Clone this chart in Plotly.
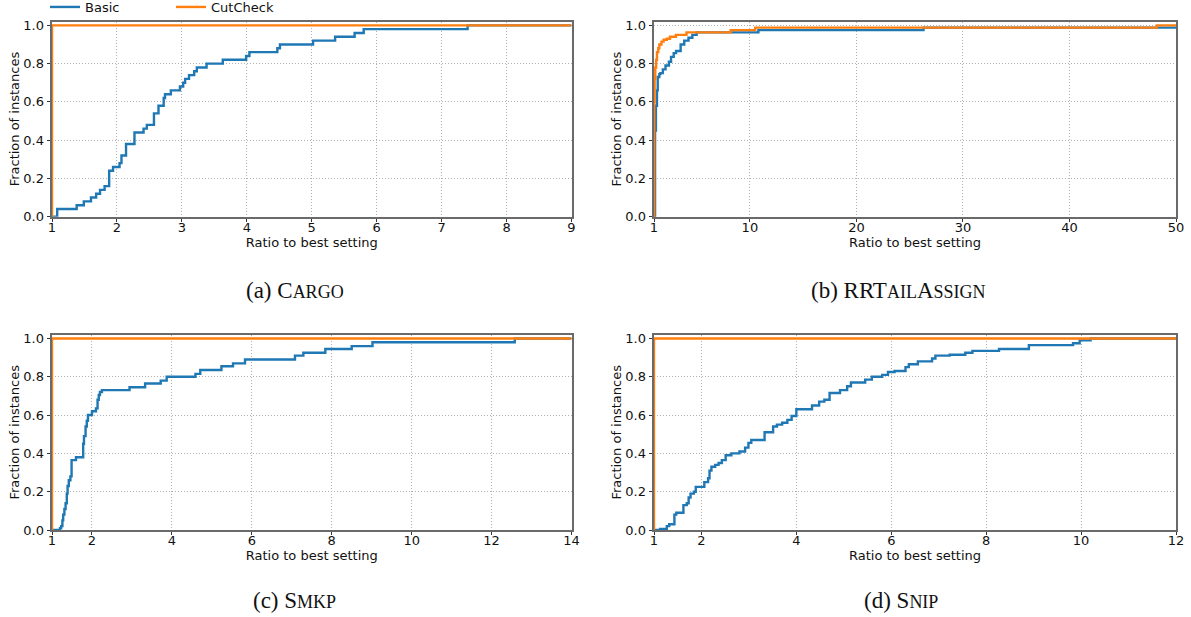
import plotly.graph_objects as go

# ---------------- data ----------------
series_names = ["Basic", "CutCheck"]
series_colors = ["#1f77b4", "#ff7f0e"]

SC = "<span style='font-size:18px'>"
panel_captions = [
    "(a) C" + SC + "ARGO</span>",
    "(b) RRT" + SC + "AIL</span>A" + SC + "SSIGN</span>",
    "(c) S" + SC + "MKP</span>",
    "(d) S" + SC + "NIP</span>",
]

x_max = [9, 50, 14, 12]
x_ticks = [
    [1, 2, 3, 4, 5, 6, 7, 8, 9],
    [1, 10, 20, 30, 40, 50],
    [1, 2, 4, 6, 8, 10, 12, 14],
    [1, 2, 4, 6, 8, 10, 12],
]
y_ticks = [0.0, 0.2, 0.4, 0.6, 0.8, 1.0]
y_tick_labels = ["0.0", "0.2", "0.4", "0.6", "0.8", "1.0"]

# Cargo
cargo_basic_x = [1.0, 1.08, 1.38, 1.49, 1.60, 1.68, 1.74, 1.81, 1.88, 1.94, 2.04, 2.07,
                 2.14, 2.27, 2.41, 2.46, 2.57, 2.64, 2.72, 2.74, 2.83, 2.97, 3.02, 3.05,
                 3.11, 3.19, 3.23, 3.38, 3.63, 3.99, 4.04, 4.47, 4.51, 5.02, 5.36, 5.66,
                 5.80, 7.40, 9.0]
cargo_basic_y = [0.0, 0.04, 0.06, 0.08, 0.10, 0.12, 0.14, 0.16, 0.24, 0.26, 0.28, 0.32,
                 0.38, 0.44, 0.46, 0.48, 0.54, 0.58, 0.62, 0.64, 0.66, 0.68, 0.70, 0.72,
                 0.74, 0.76, 0.78, 0.80, 0.82, 0.84, 0.86, 0.88, 0.90, 0.92, 0.94, 0.96,
                 0.98, 1.00, 1.00]
cargo_cut_x = [1.0, 1.0, 9.0]
cargo_cut_y = [0.0, 1.0, 1.0]

# RRTailAssign
rrt_basic_x = [1.0, 1.10, 1.18, 1.28, 1.35, 1.50, 1.60, 1.83, 2.08, 2.40, 2.60, 2.85,
               3.07, 3.50, 3.84, 4.24, 4.60, 5.00, 10.8, 26.3, 50.0]
rrt_basic_y = [0.0, 0.45, 0.58, 0.66, 0.73, 0.745, 0.75, 0.77, 0.79, 0.81, 0.835, 0.855,
               0.866, 0.90, 0.92, 0.935, 0.95, 0.963, 0.975, 0.988, 0.988]
rrt_cut_x = [1.0, 1.02, 1.06, 1.12, 1.20, 1.28, 1.40, 1.50, 1.70, 1.90, 2.20, 2.50,
             3.05, 4.05, 8.2, 10.5, 48.2, 50.0]
rrt_cut_y = [0.0, 0.60, 0.72, 0.78, 0.82, 0.86, 0.88, 0.90, 0.915, 0.925, 0.93, 0.94,
             0.95, 0.963, 0.975, 0.988, 1.0, 1.0]

# Smkp
smkp_basic_x = [1.0, 1.20, 1.23, 1.26, 1.28, 1.31, 1.34, 1.37, 1.39, 1.42, 1.46, 1.49,
                1.60, 1.78, 1.80, 1.84, 1.87, 1.90, 2.00, 2.10, 2.14, 2.17, 2.20, 2.25,
                2.94, 3.33, 3.72, 3.87, 4.59, 4.71, 5.24, 5.53, 5.83, 7.08, 7.29, 7.84,
                8.50, 9.02, 12.58, 14.0]
smkp_basic_y = [0.0, 0.01, 0.02, 0.05, 0.08, 0.11, 0.14, 0.19, 0.23, 0.26, 0.28, 0.365,
                0.38, 0.45, 0.49, 0.54, 0.57, 0.60, 0.62, 0.635, 0.68, 0.705, 0.72, 0.73,
                0.745, 0.765, 0.78, 0.80, 0.815, 0.835, 0.855, 0.87, 0.89, 0.91, 0.925,
                0.945, 0.96, 0.98, 1.0, 1.0]
smkp_cut_x = [1.0, 1.0, 14.0]
smkp_cut_y = [0.0, 1.0, 1.0]

# Snip
snip_basic_x = [1.0, 1.13, 1.27, 1.32, 1.43, 1.47, 1.62, 1.69, 1.73, 1.77, 1.84, 1.88,
                2.06, 2.14, 2.17, 2.21, 2.29, 2.36, 2.43, 2.51, 2.63, 2.80, 2.92, 2.99,
                3.05, 3.33, 3.51, 3.59, 3.70, 3.81, 3.90, 4.00, 4.33, 4.48, 4.59, 4.70,
                4.92, 5.07, 5.15, 5.45, 5.59, 5.81, 5.93, 6.07, 6.30, 6.37, 6.56, 6.86,
                6.93, 7.23, 7.56, 7.71, 8.27, 8.90, 9.83, 9.97, 10.2, 12.0]
snip_basic_y = [0.0, 0.005, 0.02, 0.03, 0.08, 0.09, 0.13, 0.14, 0.17, 0.19, 0.20, 0.225,
                0.25, 0.27, 0.31, 0.33, 0.34, 0.35, 0.365, 0.39, 0.40, 0.41, 0.43, 0.455,
                0.47, 0.51, 0.54, 0.55, 0.56, 0.575, 0.595, 0.63, 0.65, 0.67, 0.68, 0.715,
                0.73, 0.75, 0.77, 0.785, 0.80, 0.81, 0.825, 0.83, 0.85, 0.865, 0.88, 0.895,
                0.91, 0.915, 0.925, 0.935, 0.945, 0.965, 0.975, 0.99, 1.0, 1.0]
snip_cut_x = [1.0, 1.0, 12.0]
snip_cut_y = [0.0, 1.0, 1.0]

basic_x = [cargo_basic_x, rrt_basic_x, smkp_basic_x, snip_basic_x]
basic_y = [cargo_basic_y, rrt_basic_y, smkp_basic_y, snip_basic_y]
cut_x = [cargo_cut_x, rrt_cut_x, smkp_cut_x, snip_cut_x]
cut_y = [cargo_cut_y, rrt_cut_y, smkp_cut_y, snip_cut_y]

x_title = "Ratio to best setting"
y_title = "Fraction of instances"

# ---------------- layout geometry ----------------
W, H = 1191, 617
x_domains = [[52 / W, 571.5 / W], [654 / W, 1176 / W]] * 2
y_top = [1 - 216.7 / H, 1 - 21.5 / H]
y_bot = [1 - 530 / H, 1 - 334.6 / H]
y_domains = [y_top, y_top, y_bot, y_bot]
caption_pos = [(295 / W, 1 - 290 / H), (898 / W, 1 - 290 / H),
               (294 / W, 1 - 600 / H), (901 / W, 1 - 600 / H)]

fig = go.Figure()
FONT = "DejaVu Sans"

for i in range(4):
    suffix = "" if i == 0 else str(i + 1)
    for name, color, xs, ys in [
        (series_names[0], series_colors[0], basic_x[i], basic_y[i]),
        (series_names[1], series_colors[1], cut_x[i], cut_y[i]),
    ]:
        fig.add_trace(go.Scatter(
            x=xs, y=ys, mode="lines", name=name,
            line=dict(color=color, width=2.4, shape="hv"),
            xaxis="x" + suffix, yaxis="y" + suffix,
            showlegend=(i == 0), legendgroup=name,
        ))

    common = dict(
        showline=True, linecolor="#6a6a6a", linewidth=1.8, mirror=True,
        showgrid=True, gridcolor="#b0b0b0", gridwidth=0.8, griddash="1px,2px",
        zeroline=False, ticks="outside", ticklen=3.5, tickwidth=1,
        tickcolor="#333", tickfont=dict(family=FONT, size=13, color="#111"),
        automargin=False,
    )
    fig.update_layout(**{
        "xaxis" + suffix: dict(
            common, domain=x_domains[i], range=[1, x_max[i]],
            tickmode="array", tickvals=x_ticks[i],
            ticktext=[str(t) for t in x_ticks[i]],
            ticklabelstandoff=-6,
            anchor="y" + suffix,
            title=dict(text=x_title, standoff=2,
                       font=dict(family=FONT, size=13, color="#111")),
        ),
        "yaxis" + suffix: dict(
            common, domain=y_domains[i], range=[0, 1.02],
            tickmode="array", tickvals=y_ticks, ticktext=y_tick_labels,
            anchor="x" + suffix,
            title=dict(text=y_title, standoff=1,
                       font=dict(family=FONT, size=13, color="#111")),
        ),
    })
    fig.add_annotation(
        text=panel_captions[i], xref="paper", yref="paper",
        x=caption_pos[i][0], y=caption_pos[i][1], xanchor="center", yanchor="middle",
        showarrow=False, font=dict(family="Liberation Serif", size=23, color="#111"),
    )

fig.update_layout(
    width=W, height=H, margin=dict(l=0, r=0, t=0, b=0, autoexpand=False),
    paper_bgcolor="white", plot_bgcolor="white",
    font=dict(family=FONT, size=13, color="#111"),
    showlegend=True,
    legend=dict(orientation="h", x=45 / W, y=1 + 8 / H, xanchor="left", yanchor="top",
                font=dict(family=FONT, size=13, color="#111"),
                bgcolor="rgba(0,0,0,0)", entrywidth=81, entrywidthmode="pixels",
                tracegroupgap=0),
)

fig.write_html("out.html", config={"displayModeBar": False},
               post_script="document.body.style.margin='0';document.body.style.overflow='hidden';")
